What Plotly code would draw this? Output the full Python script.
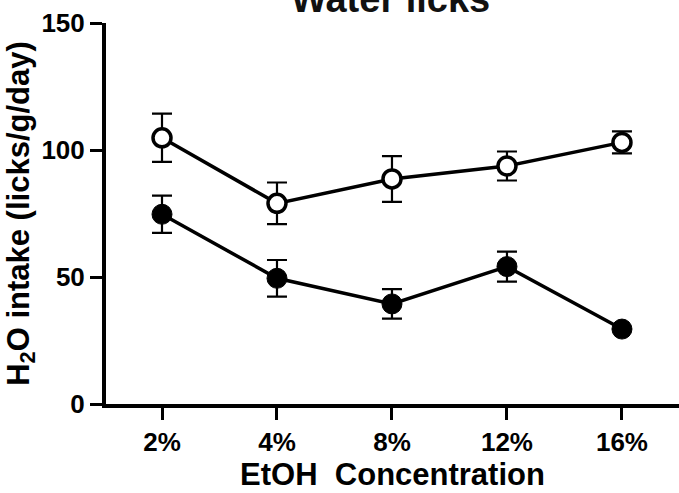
import plotly.graph_objects as go

categories = ["2%", "4%", "8%", "12%", "16%"]
open_vals = [104.8, 79.0, 88.6, 93.7, 103.0]
open_err = [9.5, 8.2, 9.0, 5.7, 4.3]
filled_vals = [74.7, 49.5, 39.4, 54.1, 29.5]
filled_err = [7.3, 7.2, 5.8, 5.9, 0]
y_ticks = [0, 50, 100, 150]

FONT = "Liberation Sans, Arial, sans-serif"
xi = list(range(len(categories)))

fig = go.Figure()
fig.add_trace(go.Scatter(
    x=xi, y=open_vals, mode="lines+markers",
    line=dict(color="black", width=3.5),
    marker=dict(symbol="circle", size=18, color="white", line=dict(color="black", width=3.5)),
    error_y=dict(type="data", array=open_err, color="black", thickness=2.2, width=10),
    showlegend=False,
))
fig.add_trace(go.Scatter(
    x=xi, y=filled_vals, mode="lines+markers",
    line=dict(color="black", width=3.5),
    marker=dict(symbol="circle", size=20, color="black", line=dict(color="black", width=1)),
    error_y=dict(type="data", array=filled_err, color="black", thickness=2.2, width=10),
    showlegend=False,
))

fig.update_layout(
    width=679, height=493,
    margin=dict(l=106, r=0, t=23, b=89),
    paper_bgcolor="white", plot_bgcolor="white",
    font=dict(family=FONT, color="black", size=22),
    annotations=[dict(
        text="<b>Water licks</b>", xref="paper", yref="paper",
        x=(390 - 106) / 573, y=1.063, xanchor="center", yanchor="middle",
        showarrow=False, font=dict(size=38, family=FONT, color="#111"),
    )],
)
fig.update_xaxes(
    range=[-0.487, 4.496], tickmode="array", tickvals=xi,
    ticktext=[f"<b>{c}</b>" for c in categories],
    showline=True, linecolor="black", linewidth=4,
    ticks="outside", ticklen=12, tickwidth=3, tickcolor="black",
    showgrid=False, zeroline=False,
    tickfont=dict(size=26, family=FONT),
    title=dict(text="<b>EtOH&nbsp;&nbsp;Concentration</b>", font=dict(size=31, family=FONT), standoff=6),
)
fig.update_yaxes(
    range=[0, 150], tickmode="array", tickvals=y_ticks,
    ticktext=[f"<b>{t}</b>" for t in y_ticks],
    showline=True, linecolor="black", linewidth=4,
    ticks="outside", ticklen=12, tickwidth=3, tickcolor="black",
    showgrid=False, zeroline=False,
    tickfont=dict(size=26, family=FONT),
    title=dict(text="<b>H<sub>2</sub>O intake (licks/g/day)</b>", font=dict(size=31, family=FONT), standoff=4),
)

fig.write_html("out.html")
